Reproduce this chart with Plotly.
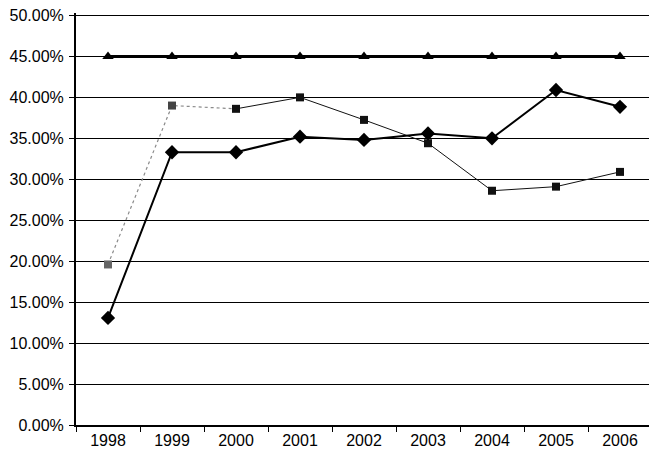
import plotly.graph_objects as go

years = ['1998', '1999', '2000', '2001', '2002', '2003', '2004', '2005', '2006']
diamond_vals = [0.1307, 0.333, 0.333, 0.352, 0.348, 0.356, 0.350, 0.409, 0.3885]
square_vals = [0.196, 0.390, 0.386, 0.400, 0.3725, 0.344, 0.286, 0.291, 0.309]
triangle_vals = [0.45] * 9
y_ticks = [round(i * 0.05, 2) for i in range(11)]

fig = go.Figure()

# faint dotted start of the square series
fig.add_trace(go.Scatter(
    x=years[:3], y=square_vals[:3], mode='lines',
    line=dict(color='#8a8a8a', width=1.2, dash='dot'),
    showlegend=False, hoverinfo='skip'
))
fig.add_trace(go.Scatter(
    x=years[2:], y=square_vals[2:], mode='lines',
    line=dict(color='#111111', width=1),
    showlegend=False, hoverinfo='skip'
))
fig.add_trace(go.Scatter(
    x=years, y=square_vals, mode='markers',
    marker=dict(symbol='square', size=8,
                color=['#666666', '#444444'] + ['#111111'] * 7),
    name='Square'
))
fig.add_trace(go.Scatter(
    x=years, y=diamond_vals, mode='lines+markers',
    line=dict(color='#000000', width=2),
    marker=dict(symbol='diamond', size=11, color='#000000'),
    name='Diamond'
))
fig.add_trace(go.Scatter(
    x=years, y=triangle_vals, mode='lines+markers',
    line=dict(color='#000000', width=3),
    marker=dict(symbol='triangle-up', size=10, color='#000000'),
    name='Triangle'
))

# page body adds an 8px offset, so the figure is 8px smaller each way
fig.update_layout(
    width=649, height=449,
    margin=dict(l=68, r=5, t=5, b=32),
    paper_bgcolor='white', plot_bgcolor='white',
    showlegend=False,
    font=dict(family='Liberation Sans, Arial, sans-serif', size=16, color='#000000'),
    xaxis=dict(
        type='category', tickson='boundaries', ticks='outside', ticklen=5,
        tickcolor='#000000', showline=True, linecolor='#000000', linewidth=2,
        showgrid=False, range=[-0.5, 8.5], ticklabelstandoff=0,
        automargin=False
    ),
    yaxis=dict(
        range=[0, 0.503], tickvals=y_ticks, tickformat='.2%',
        ticks='outside', ticklen=5, tickcolor='#000000',
        ticklabeloverflow='allow', ticklabelstandoff=2, automargin=False,
        showline=True, linecolor='#000000', linewidth=2,
        showgrid=True, gridcolor='#000000', gridwidth=1, zeroline=False
    )
)

fig.write_html("out.html")
